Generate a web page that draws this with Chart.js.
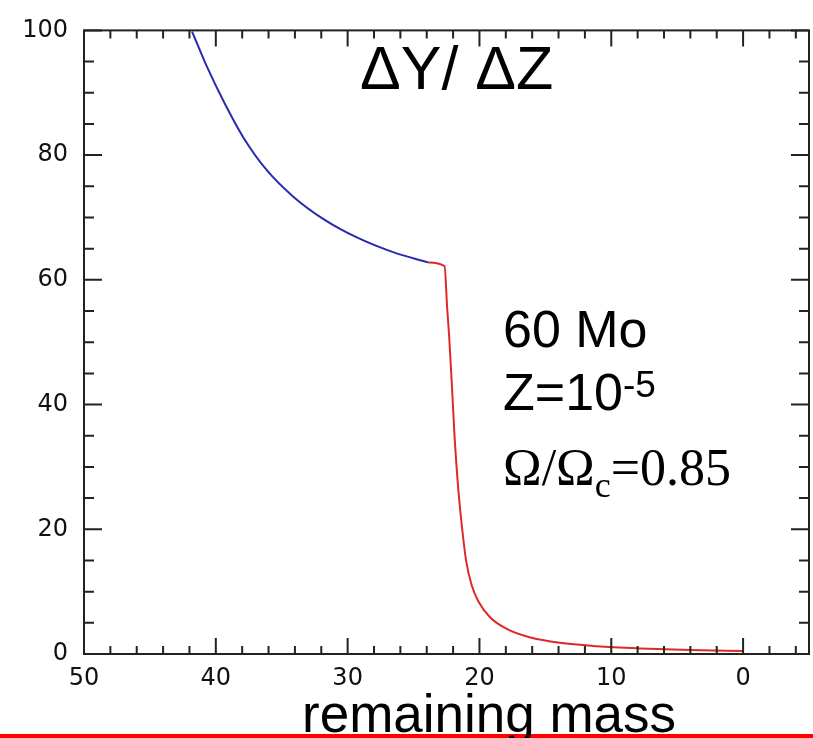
<!DOCTYPE html>
<html>
<head>
<meta charset="utf-8">
<script src="https://cdn.jsdelivr.net/npm/chart.js@4.4.1/dist/chart.umd.min.js"></script>
<style>
  body { margin: 0; background: #fff; }
  #wrap { position: relative; width: 813px; height: 738px; overflow: hidden; }
  #wrap canvas { position: absolute; left: 0; top: 0; }
  .lbl { position: absolute; white-space: nowrap; line-height: 1; color: #000; }
  .sans { font-family: "Liberation Sans", Arial, sans-serif; }
  .serif { font-family: "Liberation Serif", "Times New Roman", serif; }
  #redbar { position: absolute; left: 0; top: 734px; width: 813px; height: 4px; background: #ff0000; }
</style>
</head>
<body>
<div id="wrap">
  <canvas id="chart" width="813" height="738"></canvas>
  <div id="redbar"></div>
  <div class="lbl sans" style="left:360px; top:38px; font-size:61px;">ΔY/ ΔZ</div>
  <div class="lbl sans" style="left:503px; top:303px; font-size:52px;">60 Mo</div>
  <div class="lbl sans" style="left:503px; top:366px; font-size:52px;">Z=10<span style="font-size:37px; position:relative; top:-13px;">-5</span></div>
  <div class="lbl serif" style="left:503px; top:442px; font-size:52px;">Ω/Ω<span style="font-size:36px; position:relative; top:12px;">c</span>=0.85</div>
  <div class="lbl sans" style="left:302px; top:687px; font-size:53px;">remaining mass</div>
</div>
<script>
// remaining mass (x) and ΔY/ΔZ (y)
const blueMass = [41.8, 40.7, 39.4, 37.9, 36.1, 34.1, 31.8, 29.3, 26.5, 23.9];
const blueRatio = [99.8, 94.3, 88.6, 82.8, 77.5, 73.3, 69.7, 66.8, 64.4, 62.8];

const redMass = [23.9, 22.65, 22.45, 22.3, 22.1, 21.9, 21.6, 21.2, 21.0, 20.6, 20.1, 19.2, 17.9, 16.2, 13.9, 11.1, 7.8, 4.0, 0];
const redRatio = [62.8, 62.2, 55.5, 51.0, 43.5, 35.3, 26.3, 18.0, 14.8, 11.1, 8.5, 5.9, 4.0, 2.7, 1.8, 1.26, 0.9, 0.63, 0.47];

// axis ticks
const xMajor = [50, 40, 30, 20, 10, 0];
const xMinor = [48, 46, 44, 42, 38, 36, 34, 32, 28, 26, 24, 22, 18, 16, 14, 12, 8, 6, 4, 2, -2, -4];
const yMajor = [0, 20, 40, 60, 80, 100];
const yMinor = [5, 10, 15, 25, 30, 35, 45, 50, 55, 65, 70, 75, 85, 90, 95];

function toPoints(xs, ys) {
  return xs.map((x, i) => ({ x: x, y: ys[i] }));
}

// frame with inward ticks on all four sides
const framePlugin = {
  id: 'frame',
  afterDraw(chart) {
    const ctx = chart.ctx;
    const a = chart.chartArea;
    const xs = chart.scales.x;
    const ys = chart.scales.y;
    ctx.save();
    ctx.strokeStyle = '#222';
    ctx.lineWidth = 2;
    ctx.strokeRect(a.left, a.top, a.right - a.left, a.bottom - a.top);
    ctx.beginPath();
    const xTick = (v, len) => {
      const p = xs.getPixelForValue(v);
      ctx.moveTo(p, a.bottom); ctx.lineTo(p, a.bottom - len);
      ctx.moveTo(p, a.top); ctx.lineTo(p, a.top + len);
    };
    const yTick = (v, len) => {
      const p = ys.getPixelForValue(v);
      ctx.moveTo(a.left, p); ctx.lineTo(a.left + len, p);
      ctx.moveTo(a.right, p); ctx.lineTo(a.right - len, p);
    };
    xMajor.forEach(v => xTick(v, 16));
    xMinor.forEach(v => xTick(v, 8));
    yMajor.forEach(v => yTick(v, 18));
    yMinor.forEach(v => yTick(v, 10));
    ctx.stroke();
    ctx.restore();
  }
};

const ctx = document.getElementById('chart').getContext('2d');
new Chart(ctx, {
  type: 'line',
  data: {
    datasets: [
      {
        data: toPoints(blueMass, blueRatio),
        borderColor: '#2a2aae',
        borderWidth: 2,
        pointRadius: 0,
        fill: false,
        cubicInterpolationMode: 'monotone'
      },
      {
        data: toPoints(redMass, redRatio),
        borderColor: '#e02828',
        borderWidth: 2,
        pointRadius: 0,
        fill: false,
        cubicInterpolationMode: 'monotone'
      }
    ]
  },
  options: {
    responsive: false,
    animation: false,
    events: [],
    layout: { padding: { top: 19, right: 4, left: 0, bottom: 0 } },
    plugins: { legend: { display: false }, tooltip: { enabled: false } },
    scales: {
      x: {
        type: 'linear',
        reverse: true,
        min: -5,
        max: 50,
        grid: { display: false, drawTicks: false },
        border: { display: false },
        afterBuildTicks: s => { s.ticks = xMajor.map(v => ({ value: v })); },
        afterFit: s => { s.height = 84; },
        ticks: {
          padding: 10,
          color: '#111',
          font: { family: 'DejaVu Sans', size: 24 }
        }
      },
      y: {
        type: 'linear',
        min: 0,
        max: 100,
        grid: { display: false, drawTicks: false },
        border: { display: false },
        afterBuildTicks: s => { s.ticks = yMajor.map(v => ({ value: v })); },
        afterFit: s => { s.width = 84; },
        ticks: {
          padding: 16,
          color: '#111',
          font: { family: 'DejaVu Sans', size: 24 }
        }
      }
    }
  },
  plugins: [framePlugin]
});
</script>
</body>
</html>
